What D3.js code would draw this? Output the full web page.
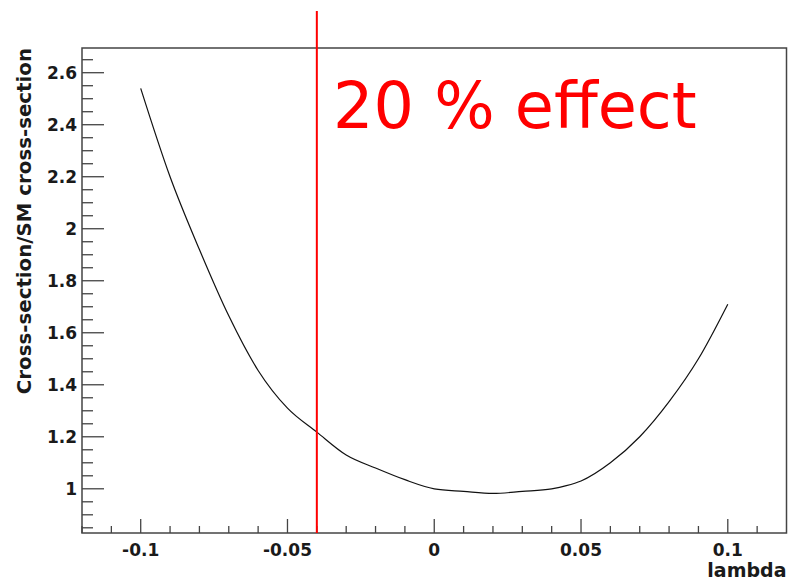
<!DOCTYPE html>
<html>
<head>
<meta charset="utf-8">
<script src="https://cdn.jsdelivr.net/npm/d3@7"></script>
<style>
  body { margin: 0; background: #fff; }
  svg { display: block; }
</style>
</head>
<body>
<div class="plot"></div>
<script>
// curve
var lambdas = [-0.1, -0.09, -0.08, -0.07, -0.06, -0.05, -0.04, -0.03, -0.02, -0.01, 0, 0.01, 0.02, 0.03, 0.04, 0.045, 0.05, 0.06, 0.07, 0.08, 0.09, 0.1];
var ratios  = [2.54, 2.20, 1.92, 1.665, 1.455, 1.31, 1.218, 1.13, 1.08, 1.035, 1.0, 0.99, 0.982, 0.99, 1.0, 1.012, 1.03, 1.10, 1.20, 1.335, 1.50, 1.71];
var xTicks = [-0.1, -0.05, 0, 0.05, 0.1];
var yTicks = [1, 1.2, 1.4, 1.6, 1.8, 2, 2.2, 2.4, 2.6];
var cutLambda = -0.04;
var label = "20 % effect";

const width = 788;
const height = 580;
const padL = 82, padR = 786.5, padT = 48, padB = 533;
const axisFont = 'DejaVu Sans, sans-serif';
// plain hyphen for negatives, like the original
const fmt = d3.formatLocale({decimal: '.', thousands: ',', grouping: [3], currency: ['', ''], minus: '-'}).format('~g');

const svg = d3.select('.plot')
    .append('svg')
    .attr('width', width)
    .attr('height', height);

const x = d3.scaleLinear().domain([-0.12, 0.12]).range([padL, padR]);
const y = d3.scaleLinear().domain([0.83, 2.695]).range([padB, padT]);

// frame
svg.append('rect')
    .attr('x', padL).attr('y', padT)
    .attr('width', padR - padL).attr('height', padB - padT)
    .attr('fill', 'none')
    .attr('stroke', '#444')
    .attr('stroke-width', 1.5);

// x ticks
var xMinor = d3.range(-12, 12).map(d => d / 100);
svg.append('g')
    .selectAll('line')
    .data(xMinor)
    .enter()
    .append('line')
        .attr('x1', d => x(d)).attr('x2', d => x(d))
        .attr('y1', padB)
        .attr('y2', d => xTicks.some(t => Math.abs(t - d) < 1e-9) ? padB - 14 : padB - 7)
        .attr('stroke', '#444')
        .attr('stroke-width', 1.3);

svg.append('g')
    .selectAll('text')
    .data(xTicks)
    .enter()
    .append('text')
        .attr('x', d => x(d))
        .attr('y', 556)
        .attr('text-anchor', 'middle')
        .attr('font-family', axisFont)
        .attr('font-weight', 'bold')
        .attr('font-size', '17px')
        .attr('fill', '#1a1a1a')
        .text(d => fmt(d));

// y ticks
var yMinor = d3.range(17, 54).map(d => d * 0.05);
svg.append('g')
    .selectAll('line')
    .data(yMinor)
    .enter()
    .append('line')
        .attr('x1', padL)
        .attr('x2', d => yTicks.some(t => Math.abs(t - d) < 1e-9) ? padL + 22 : padL + 11)
        .attr('y1', d => y(d)).attr('y2', d => y(d))
        .attr('stroke', '#444')
        .attr('stroke-width', 1.3);

svg.append('g')
    .selectAll('text')
    .data(yTicks)
    .enter()
    .append('text')
        .attr('x', padL - 5)
        .attr('y', d => y(d) + 6)
        .attr('text-anchor', 'end')
        .attr('font-family', axisFont)
        .attr('font-weight', 'bold')
        .attr('font-size', '17px')
        .attr('fill', '#1a1a1a')
        .text(d => fmt(d));

// axis titles
svg.append('text')
    .attr('x', padR)
    .attr('y', 577)
    .attr('text-anchor', 'end')
    .attr('font-family', axisFont)
    .attr('font-weight', 'bold')
    .attr('font-size', '19px')
    .attr('fill', '#1a1a1a')
    .text('lambda');

svg.append('text')
    .attr('transform', 'translate(31,' + padT + ') rotate(-90)')
    .attr('text-anchor', 'end')
    .attr('font-family', axisFont)
    .attr('font-weight', 'bold')
    .attr('font-size', '19.8px')
    .attr('fill', '#1a1a1a')
    .text('Cross-section/SM cross-section');

// curve
var pts = lambdas.map((l, i) => [l, ratios[i]]);
svg.append('path')
    .datum(pts)
    .attr('fill', 'none')
    .attr('stroke', '#111')
    .attr('stroke-width', 1.2)
    .attr('d', d3.line()
        .x(d => x(d[0]))
        .y(d => y(d[1]))
        .curve(d3.curveMonotoneX));

// red cut line
svg.append('line')
    .attr('x1', x(cutLambda)).attr('x2', x(cutLambda))
    .attr('y1', 11).attr('y2', padB)
    .attr('stroke', 'red')
    .attr('stroke-width', 2);

svg.append('text')
    .attr('x', 333)
    .attr('y', 128)
    .attr('font-family', 'DejaVu Sans, sans-serif')
    .attr('font-size', '63.6px')
    .attr('fill', 'red')
    .text(label);
</script>
</body>
</html>
